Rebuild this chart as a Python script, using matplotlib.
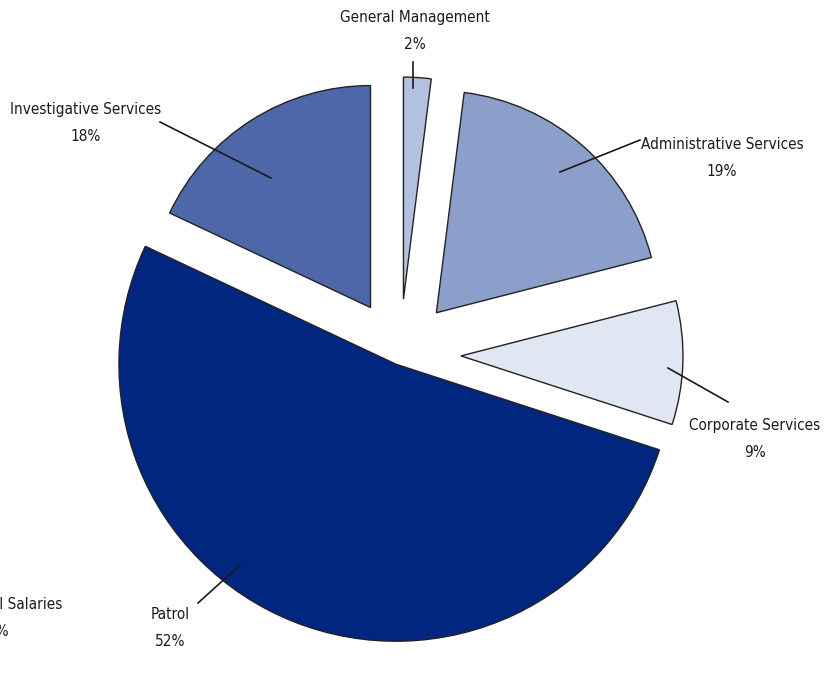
import matplotlib.pyplot as plt
from matplotlib import font_manager

# datos del gráfico (orden horario desde las 12)
categories = ['General Management', 'Administrative Services', 'Corporate Services',
              'Patrol', 'Additional Salaries', 'Investigative Services']
shares = [2, 19, 9, 52, 0, 18]
colors = ['#b3c0df', '#8c9fca', '#e1e6f3', '#002680', '#ffffff', '#4d67a8']

# buscar una fuente estrecha instalada
narrow = None
for f in font_manager.fontManager.ttflist:
    fn = f.fname.lower()
    if ('condensed' in fn or 'narrow' in fn) and 'bold' not in fn and 'italic' not in fn \
            and 'oblique' not in fn and 'light' not in fn:
        narrow = f.fname
        break
if narrow:
    fp = font_manager.FontProperties(fname=narrow, size=11)
else:
    fp = font_manager.FontProperties(family='DejaVu Sans', size=9)

W, H = 829, 686
fig = plt.figure(figsize=(W / 100, H / 100), dpi=100)
ax = fig.add_axes([0, 0, 1, 1])

# centro y radio en píxeles (y hacia arriba)
cx, cy = 400, H - 354
R = 222
explode = [55, 55, 61, 11, 55, 55]

vals = [v for v in shares if v > 0]
cols = [c for c, v in zip(colors, shares) if v > 0]
expl = [e for e, v in zip(explode, shares) if v > 0]
cats = [c for c, v in zip(categories, shares) if v > 0]

wedges, _ = ax.pie(vals, colors=cols, explode=expl, radius=R, center=(cx, cy),
                   startangle=90, counterclock=False,
                   wedgeprops=dict(edgecolor='#222222', linewidth=1.0))
for w, c in zip(wedges, cats):
    if c == 'Patrol':
        w.set_radius(277)

ax.set_xlim(0, W)
ax.set_ylim(0, H)
ax.set_aspect('equal')
ax.axis('off')

# etiquetas: (x, y) del texto y línea guía, en píxeles de imagen
label_pos = {
    'General Management': (415, 31),
    'Administrative Services': (722, 158),
    'Corporate Services': (755, 439),
    'Patrol': (170, 628),
    'Additional Salaries': (-2, 618),
    'Investigative Services': (86, 123),
}
leaders = {
    'General Management': ((413, 62), (413, 88)),
    'Administrative Services': ((640, 140), (560, 172)),
    'Corporate Services': ((728, 402), (668, 368)),
    'Patrol': ((198, 603), (240, 565)),
    'Investigative Services': ((160, 122), (271, 178)),
}

for c, v in zip(categories, shares):
    x, y = label_pos[c]
    ax.text(x, H - y, f'{c}\n{v}%', ha='center', va='center',
            fontproperties=fp, color='#1a1a1a', linespacing=1.95)
    if c in leaders:
        (x1, y1), (x2, y2) = leaders[c]
        ax.plot([x1, x2], [H - y1, H - y2], color='#1a1a1a', lw=1.2)

fig.savefig('out.png', dpi=100)
